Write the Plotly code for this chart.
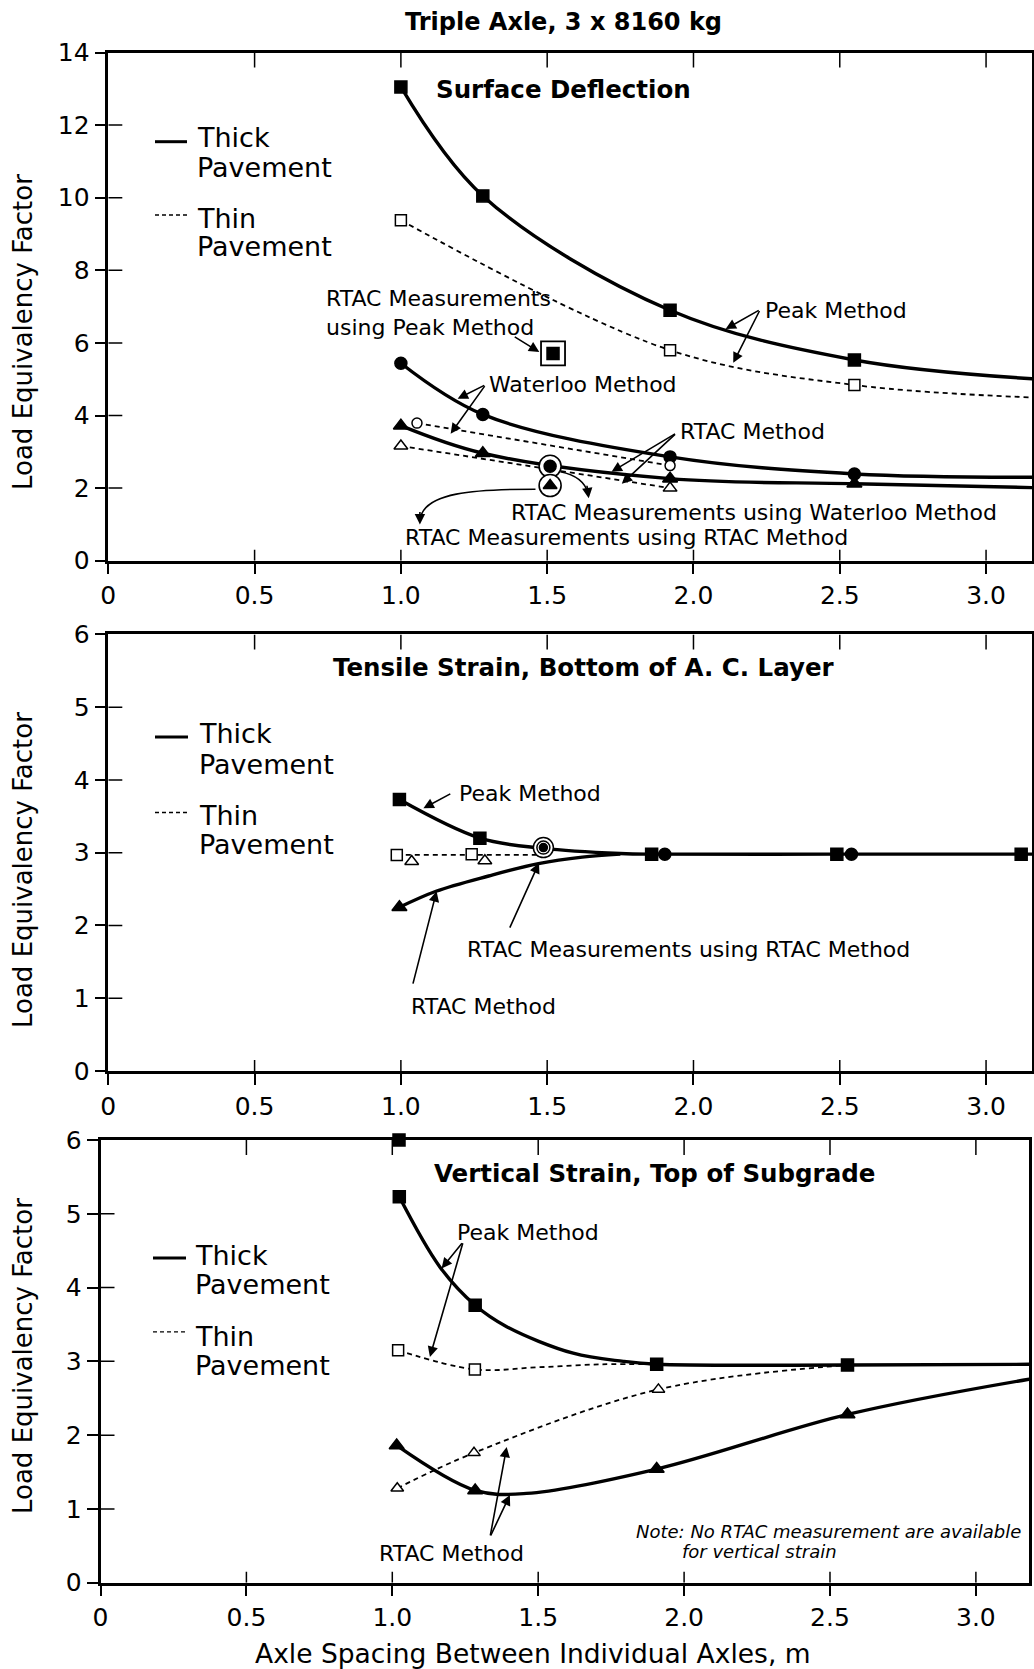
import plotly.graph_objects as go

W, H = 1034, 1669
FONT = "DejaVu Sans"

# ---------------- data ----------------
x_ticks = [0, 0.5, 1.0, 1.5, 2.0, 2.5, 3.0]
x_ticktext = ["0", "0.5", "1.0", "1.5", "2.0", "2.5", "3.0"]
p1_yticks = [0, 2, 4, 6, 8, 10, 12, 14]
p23_yticks = [0, 1, 2, 3, 4, 5, 6]

# Panel 1 - Surface Deflection
p1_peak_thick_x = [1.0, 1.28, 1.92, 2.55, 3.18]
p1_peak_thick_y = [13.05, 10.05, 6.9, 5.53, 5.0]
p1_peak_thin_x = [1.0, 1.92, 2.55, 3.18]
p1_peak_thin_y = [9.38, 5.8, 4.84, 4.49]
p1_wat_thick_x = [1.0, 1.28, 1.92, 2.55, 3.18]
p1_wat_thick_y = [5.44, 4.03, 2.86, 2.39, 2.30]
p1_wat_thin_x = [1.055, 1.92]
p1_wat_thin_y = [3.79, 2.62]
p1_rtac_thick_x = [1.0, 1.28, 1.92, 2.55, 3.18]
p1_rtac_thick_y = [3.72, 2.96, 2.26, 2.12, 2.01]
p1_rtac_thin_x = [1.0, 1.92]
p1_rtac_thin_y = [3.16, 2.0]
p1_meas_peak = (1.52, 5.71)
p1_meas_wat = (1.51, 2.60)
p1_meas_rtac = (1.51, 2.07)

# Panel 2 - Tensile Strain
p2_peak_curve_x = [0.995, 1.27, 1.487, 1.75, 1.857, 2.49, 3.18]
p2_peak_curve_y = [3.73, 3.2, 3.06, 2.99, 2.98, 2.98, 2.98]
p2_peak_mk_x = [0.995, 1.27, 1.857, 2.49, 3.12]
p2_peak_mk_y = [3.73, 3.2, 2.98, 2.98, 2.98]
p2_circ_x = [1.902, 2.54, 3.18]
p2_circ_y = [2.98, 2.98, 2.98]
p2_rtac_curve_x = [0.995, 1.12, 1.3, 1.47, 1.62, 1.75]
p2_rtac_curve_y = [2.25, 2.47, 2.68, 2.85, 2.94, 2.98]
p2_rtac_mk_x = [0.995]
p2_rtac_mk_y = [2.25]
p2_thin_line_x = [0.986, 1.487]
p2_thin_line_y = [2.97, 2.97]
p2_thin_sq_x = [0.986, 1.242]
p2_thin_sq_y = [2.97, 2.98]
p2_thin_tri_x = [1.037, 1.287]
p2_thin_tri_y = [2.88, 2.89]
p2_meas = (1.487, 3.07)

# Panel 3 - Vertical Strain
p3_peak_curve_x = [1.024, 1.163, 1.284, 1.392, 1.62, 1.792, 1.906, 2.56, 3.2]
p3_peak_curve_y = [5.23, 4.28, 3.76, 3.47, 3.11, 3.0, 2.96, 2.95, 2.96]
p3_peak_mk_x = [1.024, 1.284, 1.906, 2.56, 3.2]
p3_peak_mk_y = [5.23, 3.76, 2.96, 2.95, 2.96]
p3_top_x = [1.023]
p3_top_y = [6.0]
p3_peak_thin_curve_x = [1.02, 1.283, 1.5, 1.72, 1.906]
p3_peak_thin_curve_y = [3.15, 2.89, 2.92, 2.96, 2.96]
p3_peak_thin_mk_x = [1.02, 1.283]
p3_peak_thin_mk_y = [3.15, 2.89]
p3_rtac_curve_x = [1.015, 1.284, 1.46, 1.906, 2.56, 3.2]
p3_rtac_curve_y = [1.86, 1.25, 1.21, 1.54, 2.28, 2.77]
p3_rtac_mk_x = [1.015, 1.284, 1.906, 2.56, 3.2]
p3_rtac_mk_y = [1.86, 1.25, 1.54, 2.28, 2.77]
p3_rtac_thin_curve_x = [1.017, 1.28, 1.912, 2.56]
p3_rtac_thin_curve_y = [1.28, 1.76, 2.62, 2.95]
p3_rtac_thin_mk_x = [1.017, 1.28, 1.912]
p3_rtac_thin_mk_y = [1.28, 1.76, 2.62]

# ---------------- figure ----------------
fig = go.Figure()
BLACK = "black"
SOLID_W = 3.4
DASH_W = 1.8
DASH = "5px,4px"


def line(xa, ya, x, y, dash=False, shape="spline"):
    fig.add_trace(go.Scatter(
        x=x, y=y, xaxis=xa, yaxis=ya, mode="lines", showlegend=False, hoverinfo="skip",
        line=dict(color=BLACK, width=DASH_W if dash else SOLID_W,
                  dash=DASH if dash else "solid", shape=shape, smoothing=1.0)))


def marks(xa, ya, x, y, symbol, size=12, lw=1.5, hollow=False):
    fig.add_trace(go.Scatter(
        x=x, y=y, xaxis=xa, yaxis=ya, mode="markers", showlegend=False, hoverinfo="skip",
        cliponaxis=False,
        marker=dict(symbol=symbol, size=size, color="white" if hollow else BLACK,
                    line=dict(color=BLACK, width=lw))))


# Panel 1
line("x", "y", p1_peak_thick_x, p1_peak_thick_y)
line("x", "y", p1_peak_thin_x, p1_peak_thin_y, dash=True)
line("x", "y", p1_wat_thick_x, p1_wat_thick_y)
line("x", "y", p1_wat_thin_x, p1_wat_thin_y, dash=True)
line("x", "y", p1_rtac_thick_x, p1_rtac_thick_y)
line("x", "y", p1_rtac_thin_x, p1_rtac_thin_y, dash=True)
marks("x", "y", p1_peak_thick_x, p1_peak_thick_y, "square", 12)
marks("x", "y", p1_peak_thin_x, p1_peak_thin_y, "square", 11, hollow=True)
marks("x", "y", p1_wat_thick_x, p1_wat_thick_y, "circle", 12)
marks("x", "y", p1_wat_thin_x, p1_wat_thin_y, "circle", 10, hollow=True)
marks("x", "y", p1_rtac_thick_x, p1_rtac_thick_y, "triangle-up", 13)
marks("x", "y", p1_rtac_thin_x, p1_rtac_thin_y, "triangle-up", 12, hollow=True)
marks("x", "y", [p1_meas_peak[0]], [p1_meas_peak[1]], "square", 24, 1.8, hollow=True)
marks("x", "y", [p1_meas_peak[0]], [p1_meas_peak[1]], "square", 12)
marks("x", "y", [p1_meas_wat[0]], [p1_meas_wat[1]], "circle", 22, 1.6, hollow=True)
marks("x", "y", [p1_meas_wat[0]], [p1_meas_wat[1]], "circle", 12)
marks("x", "y", [p1_meas_rtac[0]], [p1_meas_rtac[1]], "circle", 22, 1.6, hollow=True)
marks("x", "y", [p1_meas_rtac[0]], [p1_meas_rtac[1]], "triangle-up", 12)

# Panel 2
line("x2", "y2", p2_peak_curve_x, p2_peak_curve_y)
line("x2", "y2", p2_rtac_curve_x, p2_rtac_curve_y)
line("x2", "y2", p2_thin_line_x, p2_thin_line_y, dash=True, shape="linear")
marks("x2", "y2", p2_peak_mk_x, p2_peak_mk_y, "square", 12)
marks("x2", "y2", p2_circ_x, p2_circ_y, "circle", 12)
marks("x2", "y2", p2_rtac_mk_x, p2_rtac_mk_y, "triangle-up", 13)
marks("x2", "y2", p2_thin_sq_x, p2_thin_sq_y, "square", 11, hollow=True)
marks("x2", "y2", p2_thin_tri_x, p2_thin_tri_y, "triangle-up", 12, hollow=True)
marks("x2", "y2", [p2_meas[0]], [p2_meas[1]], "circle", 20, 1.5, hollow=True)
marks("x2", "y2", [p2_meas[0]], [p2_meas[1]], "circle", 13, 1.5, hollow=True)
marks("x2", "y2", [p2_meas[0]], [p2_meas[1]], "circle", 8)

# Panel 3
line("x3", "y3", p3_peak_curve_x, p3_peak_curve_y)
line("x3", "y3", p3_peak_thin_curve_x, p3_peak_thin_curve_y, dash=True)
line("x3", "y3", p3_rtac_curve_x, p3_rtac_curve_y)
line("x3", "y3", p3_rtac_thin_curve_x, p3_rtac_thin_curve_y, dash=True)
marks("x3", "y3", p3_peak_mk_x, p3_peak_mk_y, "square", 12)
marks("x3", "y3", p3_top_x, p3_top_y, "square", 12)
marks("x3", "y3", p3_peak_thin_mk_x, p3_peak_thin_mk_y, "square", 11, hollow=True)
marks("x3", "y3", p3_rtac_mk_x, p3_rtac_mk_y, "triangle-up", 13)
marks("x3", "y3", p3_rtac_thin_mk_x, p3_rtac_thin_mk_y, "triangle-up", 11, hollow=True)

# ---------------- axes ----------------
def P(px, py):
    return px / W, 1 - py / H

axis_common = dict(showline=True, linewidth=2.5, linecolor=BLACK, mirror=True,
                   ticks="outside", ticklen=11, tickwidth=1.5, tickcolor=BLACK,
                   showgrid=False, zeroline=False, automargin=False,
                   tickfont=dict(family=FONT, size=25, color=BLACK))

panels = [
    # (xname, yname, xleft_px, xright_px, xmax, ybottom_px, ytop_px, yticks, ymax)
    ("x", "y", 108.3, 1032, 3.157, 560.7, 52.5, p1_yticks, 14),
    ("x2", "y2", 108.3, 1032, 3.157, 1071.0, 634.4, p23_yticks, 6),
    ("x3", "y3", 100.5, 1029, 3.182, 1582.7, 1140.0, p23_yticks, 6),
]
shapes = []
for xn, yn, xl, xr, xmax, yb, yt, yt_vals, ymax in panels:
    xkey = "xaxis" if xn == "x" else "xaxis" + xn[1:]
    ykey = "yaxis" if yn == "y" else "yaxis" + yn[1:]
    fig.update_layout(**{
        xkey: dict(axis_common, domain=[xl / W, xr / W], range=[0, xmax], anchor=yn,
                   tickvals=x_ticks, ticktext=x_ticktext),
        ykey: dict(axis_common, domain=[1 - yb / H, 1 - yt / H], range=[0, ymax], anchor=xn,
                   tickvals=yt_vals, ticktext=[str(v) for v in yt_vals]),
    })
    for v in x_ticks[1:]:
        shapes.append(dict(type="line", xref=xn, yref=yn, x0=v, x1=v, ysizemode="pixel",
                           yanchor=0, y0=0, y1=11, line=dict(color=BLACK, width=1.5)))
        shapes.append(dict(type="line", xref=xn, yref=yn, x0=v, x1=v, ysizemode="pixel",
                           yanchor=ymax, y0=0, y1=-15, line=dict(color=BLACK, width=1.5)))
    for v in yt_vals[1:-1]:
        shapes.append(dict(type="line", xref=xn, yref=yn, y0=v, y1=v, xsizemode="pixel",
                           xanchor=0, x0=0, x1=14, line=dict(color=BLACK, width=1.5)))

# curved arrows (panel 1)
shapes.append(dict(type="path", xref="x", yref="y",
                   path="M 1.46,1.97 C 1.25,1.97 1.08,1.88 1.066,1.15",
                   line=dict(color=BLACK, width=1.6)))
shapes.append(dict(type="path", xref="x", yref="y",
                   path="M 1.545,2.45 Q 1.625,2.32 1.64,1.85",
                   line=dict(color=BLACK, width=1.6)))

# legend samples
legend_rows = [  # (dash_x0, dash_x1, solid_y, dashed_y, text_x, thick_y, pav1_y, thin_y, pav2_y)
    (155, 187, 141.7, 215, 195, 137, 168, 218, 247),
    (155, 188, 737, 812.5, 196.5, 734, 764, 815, 844.5),
    (153, 186, 1258, 1331.8, 192.5, 1255, 1284, 1336.4, 1365),
]
annotations = []
for dx0, dx1, sy, dy, tx, ty1, ty2, ty3, ty4 in legend_rows:
    a, b = P(dx0, sy)
    c, d = P(dx1, sy)
    shapes.append(dict(type="line", xref="paper", yref="paper", x0=a, x1=c, y0=b, y1=d,
                       line=dict(color=BLACK, width=3)))
    a, b = P(dx0, dy)
    c, d = P(dx1, dy)
    shapes.append(dict(type="line", xref="paper", yref="paper", x0=a, x1=c, y0=b, y1=d,
                       line=dict(color=BLACK, width=1.3, dash="4px,3px")))
    for txt, yy in [("Thick", ty1), ("Pavement", ty2), ("Thin", ty3), ("Pavement", ty4)]:
        px_, py_ = P(tx, yy)
        annotations.append(dict(x=px_, y=py_, xref="paper", yref="paper", text=txt,
                                showarrow=False, xanchor="left", yanchor="middle",
                                font=dict(family=FONT, size=27, color=BLACK)))


def label(xr, yr, x, y, text, size=22, anchor="left", bold=False, italic=False):
    t = text
    if bold:
        t = "<b>" + t + "</b>"
    if italic:
        t = "<i>" + t + "</i>"
    annotations.append(dict(x=x, y=y, xref=xr, yref=yr, text=t, showarrow=False,
                            xanchor=anchor, yanchor="middle", align="left",
                            font=dict(family=FONT, size=size, color=BLACK)))


def arrow(xr, yr, tail, tip):
    annotations.append(dict(x=tip[0], y=tip[1], ax=tail[0], ay=tail[1], xref=xr, yref=yr,
                            axref=xr, ayref=yr, text="", showarrow=True, arrowhead=2,
                            arrowsize=1.3, arrowwidth=1.6, arrowcolor=BLACK))


def head(xr, yr, tip, dx, dy):
    annotations.append(dict(x=tip[0], y=tip[1], ax=dx, ay=dy, xref=xr, yref=yr,
                            text="", showarrow=True, arrowhead=2, arrowsize=1.3,
                            arrowwidth=1.6, arrowcolor=BLACK))


# Panel 1 labels
label("x", "y", 1.112, 12.98, "Surface Deflection", 24.5, bold=True)
label("x", "y", 2.236, 6.9, "Peak Method")
arrow("x", "y", (2.228, 6.92), (2.11, 6.38))
arrow("x", "y", (2.228, 6.92), (2.136, 5.45))
label("x", "y", 0.736, 6.83, "RTAC Measurements<br>using Peak Method")
arrow("x", "y", (1.384, 6.19), (1.473, 5.75))
label("x", "y", 1.294, 4.85, "Waterloo Method")
arrow("x", "y", (1.29, 4.85), (1.194, 4.46))
arrow("x", "y", (1.29, 4.85), (1.17, 3.5))
label("x", "y", 1.947, 3.55, "RTAC Method")
arrow("x", "y", (1.942, 3.52), (1.72, 2.45))
arrow("x", "y", (1.942, 3.52), (1.755, 2.12))
label("x", "y", 1.369, 1.32, "RTAC Measurements using Waterloo Method")
label("x", "y", 1.007, 0.63, "RTAC Measurements using RTAC Method")
head("x", "y", (1.065, 1.0), 0, -14)
head("x", "y", (1.642, 1.72), -2, -14)

# Panel 2 labels
label("x2", "y2", 1.625, 5.55, "Tensile Strain, Bottom of A. C. Layer", 24.5, anchor="center", bold=True)
label("x2", "y2", 1.193, 3.82, "Peak Method")
arrow("x2", "y2", (1.174, 3.82), (1.077, 3.61))
label("x2", "y2", 1.22, 1.67, "RTAC Measurements using RTAC Method")
arrow("x2", "y2", (1.37, 1.95), (1.472, 2.86))
label("x2", "y2", 1.028, 0.89, "RTAC Method")
arrow("x2", "y2", (1.04, 1.18), (1.122, 2.47))

# Panel 3 labels
label("x3", "y3", 1.135, 5.55, "Vertical Strain, Top of Subgrade", 24.5, bold=True)
label("x3", "y3", 1.215, 4.74, "Peak Method")
arrow("x3", "y3", (1.243, 4.62), (1.169, 4.26))
arrow("x3", "y3", (1.243, 4.62), (1.129, 3.06))
label("x3", "y3", 0.947, 0.40, "RTAC Method")
arrow("x3", "y3", (1.335, 0.62), (1.392, 1.84))
arrow("x3", "y3", (1.335, 0.62), (1.403, 1.19))
label("x3", "y3", 1.83, 0.69, "Note: No RTAC measurement are available", 18, italic=True)
label("x3", "y3", 1.985, 0.42, "for vertical strain", 18, italic=True)

# titles
tx, ty = P(563, 22)
annotations.append(dict(x=tx, y=ty, xref="paper", yref="paper", showarrow=False,
                        text="<b>Triple Axle, 3 x 8160 kg</b>", xanchor="center", yanchor="middle",
                        font=dict(family=FONT, size=24, color=BLACK)))
tx, ty = P(533, 1653)
annotations.append(dict(x=tx, y=ty, xref="paper", yref="paper", showarrow=False,
                        text="Axle Spacing Between Individual Axles, m", xanchor="center",
                        yanchor="middle", font=dict(family=FONT, size=26.5, color=BLACK)))
for cy in [332, 870, 1356]:
    tx, ty = P(23, cy)
    annotations.append(dict(x=tx, y=ty, xref="paper", yref="paper", showarrow=False,
                            text="Load Equivalency Factor", textangle=-90, xanchor="center",
                            yanchor="middle", font=dict(family=FONT, size=26, color=BLACK)))

fig.update_layout(width=W, height=H, margin=dict(l=0, r=0, t=0, b=0),
                  template="none", paper_bgcolor="white", plot_bgcolor="white",
                  showlegend=False, shapes=shapes, annotations=annotations,
                  font=dict(family=FONT, color=BLACK))

fig.write_html("out.html")
